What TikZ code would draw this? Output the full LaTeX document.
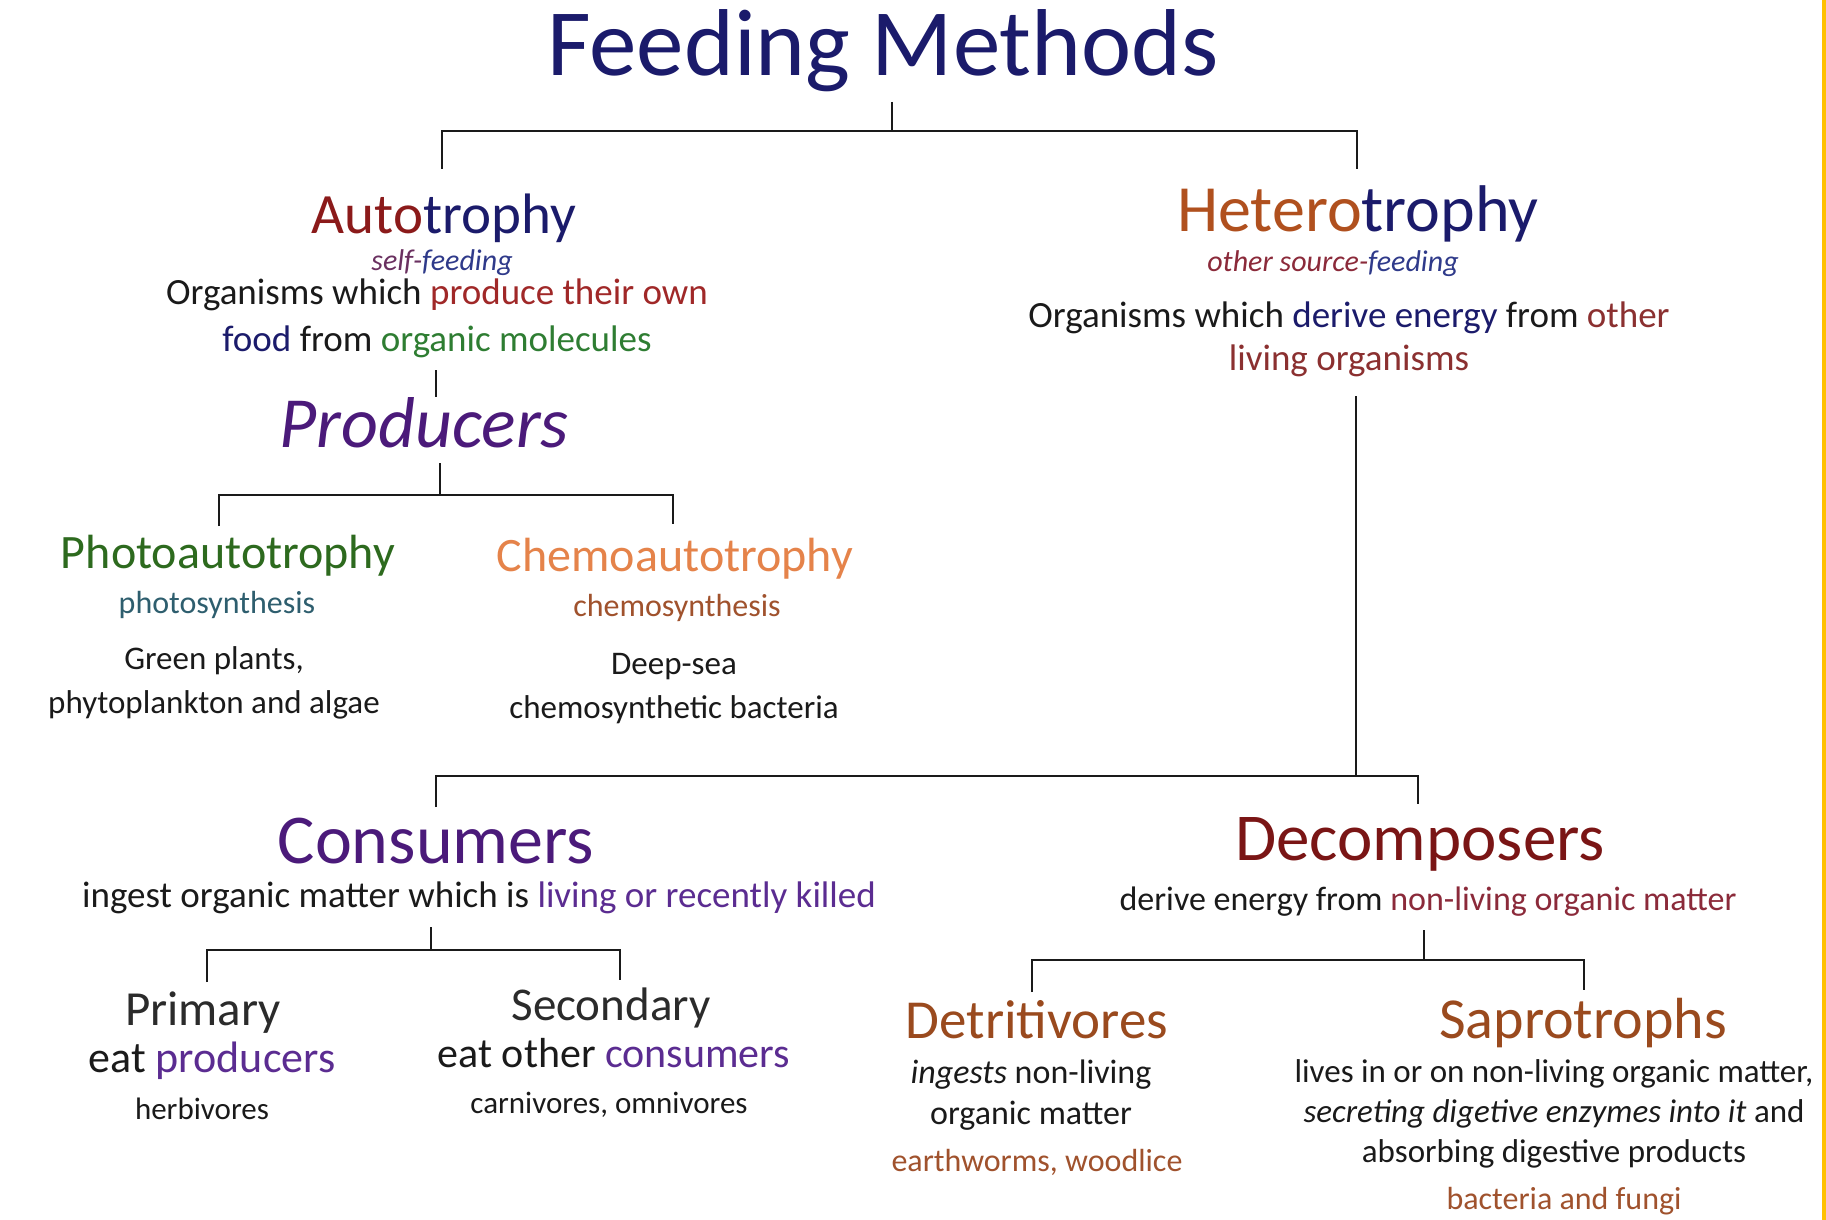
\documentclass[tikz,border=0pt]{standalone}
\usepackage{fontspec}
\setmainfont{Carlito}
\usetikzlibrary{calc}

\definecolor{ink}{HTML}{1A1A1A}
\definecolor{navy}{HTML}{1B1B6B}
\definecolor{autored}{HTML}{8B1A1A}
\definecolor{prodred}{HTML}{A02828}
\definecolor{livered}{HTML}{8B3030}
\definecolor{molgreen}{HTML}{2E7D32}
\definecolor{photogreen}{HTML}{2D6A1E}
\definecolor{teal}{HTML}{2E5E6E}
\definecolor{heterobrown}{HTML}{B0501E}
\definecolor{chemoorange}{HTML}{E5834A}
\definecolor{sienna}{HTML}{A0522D}
\definecolor{prodpurple}{HTML}{4B1A7A}
\definecolor{lightpurple}{HTML}{5B2C91}
\definecolor{decompred}{HTML}{7A1515}
\definecolor{deadred}{HTML}{8B2A3A}
\definecolor{detribrown}{HTML}{9A4A1E}
\definecolor{grayhead}{HTML}{2B2B2B}
\definecolor{selfc}{HTML}{6A3060}
\definecolor{feedc}{HTML}{2F3A8A}
\definecolor{gold}{HTML}{FFC000}

\begin{document}
\begin{tikzpicture}[x=1pt,y=-1pt,
  every node/.style={anchor=base,inner sep=0pt,align=center,text=ink},
  fsize/.style 2 args={font=\fontsize{#1}{#2}\selectfont},
  branch/.style={draw=ink,line width=2.5pt}]
\fill[white] (0,0) rectangle (1826,1220);
\useasboundingbox (0,0) rectangle (1826,1220);
\fill[gold] (1822,0) rectangle (1826,1220);

\node[fsize={95}{114},text=navy] (FeedingMethods) at (883,76) {Feeding Methods};

% autotrophy side
\node[fsize={57}{68}] (Autotrophy) at (444,233) {\textcolor{autored}{Auto}\textcolor{navy}{trophy}};
\node[fsize={30}{36}] (AutotrophyFeeding) at ($(Autotrophy.base)+(-2,37)$) {\textit{\textcolor{selfc}{self-}\textcolor{feedc}{feeding}}};
\node[fsize={37}{47}] (AutotrophyText) at ($(Autotrophy.base)+(-7,118)$) {Organisms which \textcolor{prodred}{produce their own}\\ \textcolor{navy}{food} from \textcolor{molgreen}{organic molecules}};
\node[fsize={72}{86},text=prodpurple] (Producers) at (424,447) {\textit{Producers}};
\node[fsize={48}{58},text=photogreen] (Photo) at (228,568) {Photoautotrophy};
\node[fsize={32}{38},text=teal] (PhotoSyn) at ($(Photo.base)+(-11,45)$) {photosynthesis};
\node[fsize={33}{44}] (PhotoText) at ($(Photo.base)+(-14,145)$) {Green plants,\\ phytoplankton and algae};
\node[fsize={48}{58},text=chemoorange] (Chemo) at (675,571) {Chemoautotrophy};
\node[fsize={32}{38},text=sienna] (ChemoSyn) at ($(Chemo.base)+(2,45)$) {chemosynthesis};
\node[fsize={33}{44}] (ChemoText) at ($(Chemo.base)+(-1,147)$) {Deep-sea\\ chemosynthetic bacteria};

% heterotrophy side
\node[fsize={66}{79}] (Heterotrophy) at (1358,231) {\textcolor{heterobrown}{Hetero}\textcolor{navy}{trophy}};
\node[fsize={30}{36}] (HeterotrophyFeeding) at ($(Heterotrophy.base)+(-25,40)$) {\textit{\textcolor{deadred}{other source-}\textcolor{feedc}{feeding}}};
\node[fsize={37}{43}] (HeterotrophyText) at ($(Heterotrophy.base)+(-9,139)$) {Organisms which \textcolor{navy}{derive energy} from \textcolor{livered}{other}\\ \textcolor{livered}{living organisms}};

\node[fsize={70}{84},text=prodpurple] (Consumers) at (436,863) {Consumers};
\node[fsize={37}{44}] (ConsumersText) at ($(Consumers.base)+(43,44)$) {ingest organic matter which is \textcolor{lightpurple}{living or recently killed}};
\node[fsize={49}{58},text=grayhead] (Primary) at (203,1025) {Primary};
\node[fsize={44}{52}] (PrimaryEat) at ($(Primary.base)+(9,47)$) {eat \textcolor{lightpurple}{producers}};
\node[fsize={31}{37}] (PrimaryEx) at ($(Primary.base)+(-1,94)$) {herbivores};
\node[fsize={47}{56},text=grayhead] (Secondary) at (611,1020) {Secondary};
\node[fsize={42}{50}] (SecondaryEat) at ($(Secondary.base)+(3,47)$) {eat other \textcolor{lightpurple}{consumers}};
\node[fsize={31}{37}] (SecondaryEx) at ($(Secondary.base)+(-2,93)$) {carnivores, omnivores};

\node[fsize={67}{80},text=decompred] (Decomposers) at (1420,860) {Decomposers};
\node[fsize={34}{41}] (DecomposersText) at ($(Decomposers.base)+(8,50)$) {derive energy from \textcolor{deadred}{non-living organic matter}};
\node[fsize={55}{66},text=detribrown] (Detritivores) at (1037,1038) {Detritivores};
\node[fsize={34}{41}] (DetritivoresText) at ($(Detritivores.base)+(-6,86)$) {\textit{ingests} non-living\\ organic matter};
\node[fsize={32}{38},text=sienna] (DetritivoresEx) at ($(Detritivores.base)+(0,133)$) {earthworms, woodlice};
\node[fsize={58}{70},text=detribrown] (Saprotrophs) at (1583,1038) {Saprotrophs};
\node[fsize={33}{40}] (SaprotrophsText) at ($(Saprotrophs.base)+(-29,124)$) {lives in or on non-living organic matter,\\ \textit{secreting digetive enzymes into it} and\\ absorbing digestive products};
\node[fsize={32}{38},text=sienna] (SaprotrophsEx) at ($(Saprotrophs.base)+(-19,171)$) {bacteria and fungi};

% branches
\draw[branch] ($(FeedingMethods.base)+(9,26)$) -- ++(0,29) coordinate (TopBar);
\draw[branch] ($(Autotrophy.base)+(-2,-64)$) |- (TopBar) -| ($(Heterotrophy.base)+(-1,-62)$);
\draw[branch] ($(AutotrophyText.base)+(-1,19)$) -- ($(Producers.base)+(12,-50)$);
\draw[branch] ($(Producers.base)+(16,16)$) -- ++(0,32) coordinate (ProdBar);
\draw[branch] ($(Photo.base)+(-9,-42)$) |- (ProdBar) -| ($(Chemo.base)+(-2,-47)$);
\draw[branch] ($(HeterotrophyText.base)+(7,26)$) -- ++(0,380) coordinate (MidBar);
\draw[branch] ($(Consumers.base)+(0,-56)$) |- (MidBar) -| ($(Decomposers.base)+(-2,-56)$);
\draw[branch] ($(ConsumersText.base)+(-48,20)$) -- ++(0,23) coordinate (ConsBar);
\draw[branch] ($(Primary.base)+(4,-43)$) |- (ConsBar) -| ($(Secondary.base)+(9,-40)$);
\draw[branch] ($(DecomposersText.base)+(-4,20)$) -- ++(0,30) coordinate (DecompBar);
\draw[branch] ($(Detritivores.base)+(-5,-46)$) |- (DecompBar) -| ($(Saprotrophs.base)+(1,-48)$);
\end{tikzpicture}
\end{document}
